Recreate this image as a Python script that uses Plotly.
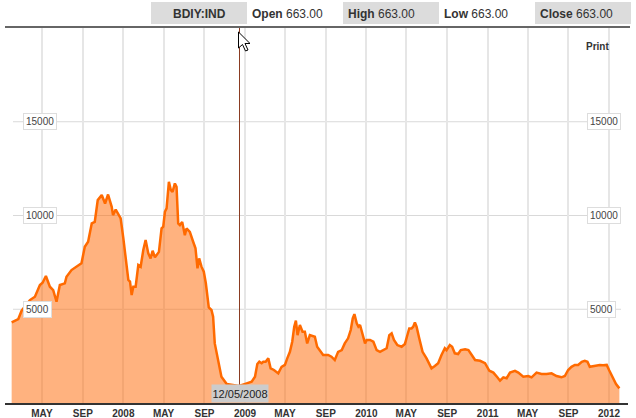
import plotly.graph_objects as go

# ---------------- data ----------------
dates = [
    "2007-01-30","2007-02-19","2007-03-01","2007-03-26","2007-04-10","2007-04-25","2007-05-03","2007-05-13",
    "2007-05-25","2007-06-04","2007-06-14","2007-06-24","2007-07-09","2007-07-14","2007-07-29","2007-08-13",
    "2007-08-28","2007-09-07","2007-09-17","2007-09-28","2007-10-07","2007-10-16","2007-10-28","2007-11-07",
    "2007-11-16","2007-11-27","2007-12-01","2007-12-09","2007-12-17","2007-12-24","2008-01-01","2008-01-08",
    "2008-01-16","2008-01-21","2008-01-26","2008-01-31","2008-02-07","2008-02-15","2008-02-22","2008-03-01",
    "2008-03-08","2008-03-16","2008-03-23","2008-03-29","2008-04-05","2008-04-17","2008-04-25","2008-04-30",
    "2008-05-05","2008-05-10","2008-05-17","2008-05-23","2008-05-28","2008-06-04","2008-06-09","2008-06-14",
    "2008-06-19","2008-06-26","2008-07-04","2008-07-09","2008-07-19","2008-07-29","2008-08-05","2008-08-11",
    "2008-08-16","2008-08-23","2008-08-30","2008-09-05","2008-09-14","2008-09-22","2008-09-27","2008-10-02",
    "2008-10-12","2008-10-22","2008-11-07","2008-11-27","2008-12-14","2009-01-06","2009-01-21","2009-01-31",
    "2009-02-07","2009-02-13","2009-02-20","2009-02-25","2009-03-04","2009-03-12","2009-03-19","2009-03-29",
    "2009-04-11","2009-04-21","2009-05-01","2009-05-08","2009-05-16","2009-05-23","2009-05-29","2009-06-03",
    "2009-06-08","2009-06-15","2009-06-23","2009-06-30","2009-07-07","2009-07-15","2009-07-23","2009-07-30",
    "2009-08-06","2009-08-14","2009-08-24","2009-09-08","2009-09-18","2009-09-28","2009-10-08","2009-10-19",
    "2009-10-28","2009-11-07","2009-11-15","2009-11-21","2009-11-26","2009-12-03","2009-12-08","2009-12-13",
    "2009-12-20","2009-12-28","2010-01-02","2010-01-12","2010-01-22","2010-02-01","2010-02-11","2010-02-21",
    "2010-03-03","2010-03-11","2010-03-18","2010-03-25","2010-04-04","2010-04-17","2010-04-27","2010-05-04",
    "2010-05-10","2010-05-17","2010-05-22","2010-05-27","2010-06-01","2010-06-09","2010-06-19","2010-07-01",
    "2010-07-16","2010-07-26","2010-08-05","2010-08-15","2010-08-25","2010-08-30","2010-09-09","2010-09-16",
    "2010-09-24","2010-10-04","2010-10-12","2010-10-25","2010-11-04","2010-11-14","2010-11-24","2010-12-09",
    "2010-12-24","2011-01-06","2011-01-18","2011-01-30","2011-02-07","2011-02-17","2011-02-27","2011-03-09",
    "2011-03-24","2011-04-03","2011-04-18","2011-05-03","2011-05-13","2011-05-28","2011-06-12","2011-06-27",
    "2011-07-12","2011-07-27","2011-08-11","2011-08-21","2011-08-31","2011-09-10","2011-09-20","2011-09-30",
    "2011-10-11","2011-10-20","2011-10-28","2011-11-04","2011-11-14","2011-11-24","2011-12-04","2011-12-14",
    "2011-12-25","2012-01-01","2012-01-12","2012-01-22","2012-02-01",
]
bdi_values = [
    4300, 4480, 4920, 5490, 5670, 6290, 6410, 6770,
    6200, 6020, 5400, 6290, 6380, 6730, 7090, 7270,
    7450, 8330, 8600, 9580, 9660, 10820, 11090, 10640,
    11120, 10460, 10020, 10320, 10020, 9840, 8780, 7800,
    6560, 6470, 5760, 6200, 6200, 7360, 7270, 8160,
    8690, 7980, 7710, 8120, 7770, 8060, 9310, 9400,
    10200, 10380, 11800, 11350, 11260, 11710, 11530, 9580,
    9490, 9660, 8950, 9310, 9130, 8600, 8250, 7180,
    7710, 7270, 7000, 6400, 5100, 4960, 4600, 3180,
    2290, 1400, 1010, 960, 910, 1050, 1140, 1400,
    2080, 2200, 2120, 2200, 2200, 2380, 1850, 1760,
    1580, 1930, 2030, 2380, 2730, 3270, 4070, 4390,
    3620, 4160, 3800, 3800, 3180, 3620, 3570, 3530,
    3000, 2820, 2560, 2560, 2470, 2290, 2730, 2820,
    3180, 3450, 3890, 4510, 4740, 4250, 4070, 4160,
    3720, 3180, 3360, 3360, 3270, 2820, 2730, 2820,
    2920, 3620, 3720, 3360, 3090, 3000, 3150, 3600,
    3980, 3980, 4070, 4300, 4070, 3450, 2730, 2380,
    1850, 1970, 2120, 2560, 2920, 2820, 3090, 3000,
    2650, 2610, 2820, 2860, 2820, 2560, 2290, 2250,
    2120, 1720, 1620, 1370, 1190, 1370, 1320, 1620,
    1710, 1620, 1400, 1440, 1370, 1620, 1550, 1550,
    1580, 1440, 1370, 1440, 1760, 1930, 2030, 2030,
    2200, 2250, 2200, 1930, 1970, 1970, 2030, 2010,
    2030, 1760, 1320, 1010, 780,
]

x_tick_vals = ["2007-05-01","2007-09-01","2008-01-01","2008-05-01","2008-09-01","2009-01-01","2009-05-01",
               "2009-09-01","2010-01-01","2010-05-01","2010-09-01","2011-01-01","2011-05-01","2011-09-01",
               "2012-01-01"]
x_tick_text = ["MAY","SEP","2008","MAY","SEP","2009","MAY","SEP","2010","MAY","SEP","2011","MAY","SEP","2012"]
y_tick_vals = [5000, 10000, 15000]
y_tick_text = ["5000", "10000", "15000"]

ticker = "BDIY:IND"
ohlc_labels = ["Open", "High", "Low", "Close"]
ohlc_values = ["663.00", "663.00", "663.00", "663.00"]
cursor_date = "2008-12-15 09:00"
cursor_label = "12/05/2008"

# ---------------- layout geometry ----------------
W, H = 636, 418
ML, MR, MT, MB = 5, 8, 28, 15
PW, PH = W - ML - MR, H - MT - MB


def px(x):
    return (x - ML) / PW


def py(y):
    return (H - MB - y) / PH


FONT = "Liberation Sans, Arial, sans-serif"

fig = go.Figure()
fig.add_trace(go.Scatter(
    x=dates, y=bdi_values, mode="lines",
    line=dict(color="#ff6a00", width=2.5),
    fill="tozeroy", fillcolor="rgba(255,102,0,0.5)",
    hoverinfo="skip", showlegend=False,
))

shapes = []
# horizontal gridlines
for v in y_tick_vals:
    shapes.append(dict(type="line", xref="paper", yref="y", x0=px(13), x1=px(621), y0=v, y1=v,
                       line=dict(color="#d9d9d9", width=1), layer="below"))
# header rule
shapes.append(dict(type="line", xref="paper", yref="paper", x0=0, x1=px(630), y0=py(27), y1=py(27),
                   line=dict(color="#333333", width=1.5)))
# cursor line
shapes.append(dict(type="line", xref="x", yref="paper", x0=cursor_date, x1=cursor_date,
                   y0=py(385), y1=1, line=dict(color="#8a3c22", width=1)))

# mouse pointer (screen-space pixel path, drawn over the chart)
pointer_px = [(0, 0), (0, 16), (4, 12.5), (7, 19), (9.5, 18), (6.5, 11.5), (11.5, 11.5)]
tip_x, tip_y = 238.5, 32
path = "M " + " L ".join(f"{px(tip_x + dx):.5f},{py(tip_y + dy):.5f}" for dx, dy in pointer_px) + " Z"
shapes.append(dict(type="path", xref="paper", yref="paper", path=path,
                   fillcolor="white", line=dict(color="black", width=1)))

annotations = []
for v, t in zip(y_tick_vals, y_tick_text):
    for xpix in (23, 587):
        annotations.append(dict(xref="paper", yref="y", x=px(xpix), y=v, text=t, showarrow=False,
                                xanchor="left", yanchor="middle",
                                font=dict(family=FONT, size=10, color="#444444"),
                                bgcolor="white", bordercolor="#dddddd", borderwidth=1, borderpad=2))

annotations.append(dict(xref="paper", yref="paper", x=px(597), y=py(46), text="<b>Print</b>",
                        showarrow=False, xanchor="center", yanchor="middle",
                        font=dict(family=FONT, size=10, color="#333333")))

# header cells (alternating grey boxes)
cells = [(151, 247), (247, 343), (343, 439), (439, 535), (535, 631)]
for i, (c0, c1) in enumerate(cells):
    if i % 2 == 0:
        shapes.append(dict(type="rect", xref="paper", yref="paper", x0=px(c0), x1=px(c1),
                           y0=py(24), y1=py(2), fillcolor="#dcdcdc", line=dict(width=0)))
annotations.append(dict(xref="paper", yref="paper", x=px((cells[0][0] + cells[0][1]) / 2), y=py(13.5),
                        text="<b>" + ticker + "</b>", showarrow=False, xanchor="center", yanchor="middle",
                        font=dict(family=FONT, size=12, color="#333333")))
for (lab, val), (c0, c1) in zip(zip(ohlc_labels, ohlc_values), cells[1:]):
    annotations.append(dict(xref="paper", yref="paper", x=px(c0 + 3), y=py(13.5),
                            text="<b>" + lab + "</b> " + val, showarrow=False,
                            xanchor="left", yanchor="middle",
                            font=dict(family=FONT, size=12, color="#333333")))

# cursor date tooltip
annotations.append(dict(xref="x", yref="paper", x=cursor_date, y=py(393.5), text=cursor_label,
                        showarrow=False, xanchor="center", yanchor="middle", width=56, height=17,
                        bgcolor="#cccccc", borderpad=0, font=dict(family=FONT, size=11, color="#222222")))

fig.update_layout(
    width=W, height=H,
    margin=dict(l=ML, r=MR, t=MT, b=MB, pad=0),
    paper_bgcolor="white", plot_bgcolor="white",
    shapes=shapes, annotations=annotations,
    xaxis=dict(type="date", range=["2007-01-10", "2012-02-27"],
               tickvals=x_tick_vals, ticktext=["<b>" + t + "</b>" for t in x_tick_text],
               tickfont=dict(family=FONT, size=10, color="#333333"),
               showgrid=True, gridcolor="#e6e6e6", gridwidth=2,
               showline=True, linecolor="#333333", linewidth=1.5,
               ticks="", ticklabelstandoff=0, zeroline=False, fixedrange=True, automargin=False),
    yaxis=dict(range=[0, 20000], showgrid=False, showticklabels=False, zeroline=False,
               showline=False, fixedrange=True, automargin=False),
    hovermode=False,
)

fig.write_html("out.html", config={"displayModeBar": False},
               post_script="document.body.style.margin='0px';document.body.style.overflow='hidden';")
